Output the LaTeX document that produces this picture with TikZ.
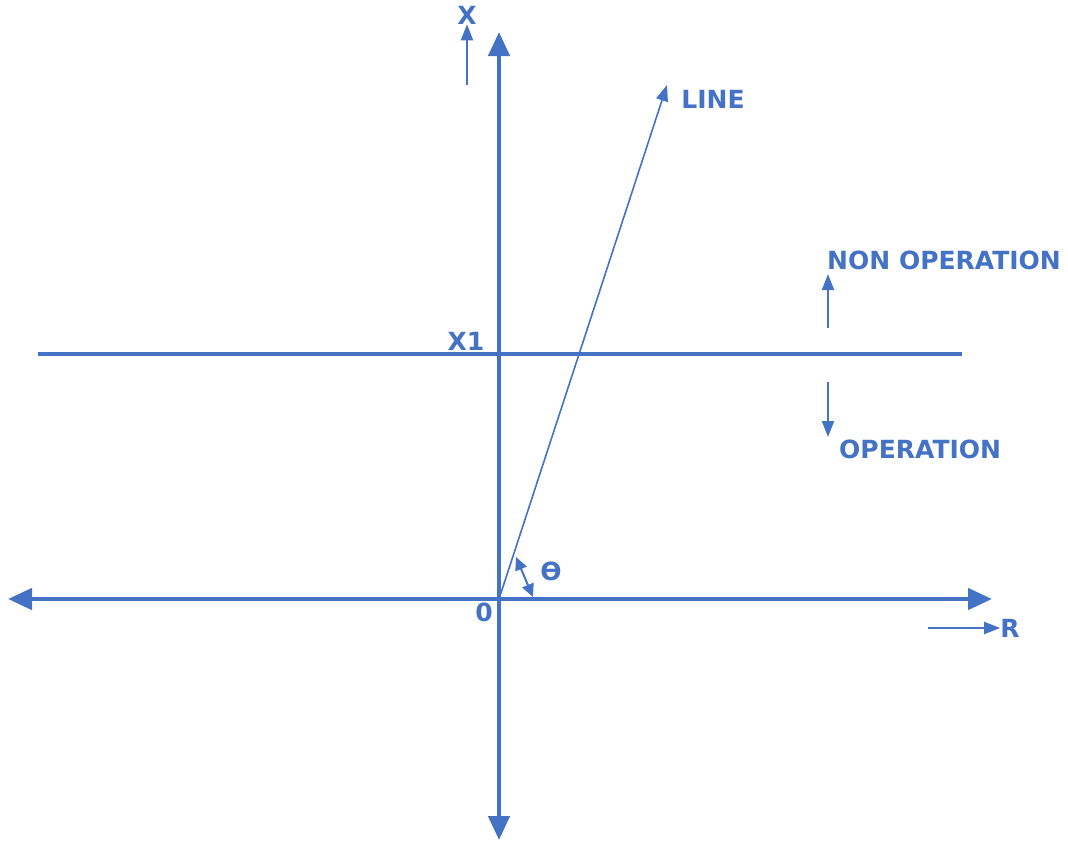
\documentclass[tikz,border=0pt]{standalone}
\usepackage{fontspec}
\setmainfont{DejaVu Sans}
\usetikzlibrary{arrows.meta}
\definecolor{ab}{HTML}{4472C4}
\tikzset{
  axis/.style={draw=ab, line width=4.5pt, -{Triangle[length=24pt,width=21pt]}},
  thinarrow/.style={draw=ab, line width=2pt, -{Triangle[length=16pt,width=12pt]}},
  lbl/.style={text=ab, font=\bfseries\fontsize{25}{28}\selectfont, inner sep=0pt},
}
\begin{document}
\begin{tikzpicture}[x=1pt,y=-1pt]
\useasboundingbox (0,0) rectangle (1068,841);
% coordinates
\coordinate (O) at (499,599);
\coordinate (vtop) at (499,32);
\coordinate (vbot) at (499,840);
\coordinate (hl) at (8,599);
\coordinate (hr) at (992,599);
\coordinate (xl) at (38,354);
\coordinate (xr) at (962,354);
\coordinate (lineEnd) at (667,85);
% axes
\draw[axis] (O) -- (vtop);
\draw[axis] (O) -- (vbot);
\draw[axis] (O) -- (hl);
\draw[axis] (O) -- (hr);
% X1 line
\draw[ab, line width=3.5pt] (xl) -- (xr);
% inclined line
\draw[thinarrow, line width=1.6pt] (O) -- (lineEnd);
% labels
\node[lbl] (X) at (467,15) {X};
\coordinate (xa0) at (467,85);
\draw[thinarrow] (xa0) -- (X.south);
\node[lbl] (LINE) at (713,99) {LINE};
\node[lbl, anchor=west] (NON) at (827,260) {NON OPERATION};
\coordinate (na0) at (828,328);
\coordinate (na1) at (828,274);
\draw[thinarrow] (na0) -- (na1);
\node[lbl, anchor=west] (OP) at (839,449) {OPERATION};
\coordinate (oa0) at (828,382);
\coordinate (oa1) at (828,437);
\draw[thinarrow] (oa0) -- (oa1);
\node[lbl] (X1) at (466,341) {X1};
\node[lbl] (zero) at (484,612) {0};
\node[lbl] (theta) at (551,571) {ϴ};
\coordinate (t0) at (516,557);
\coordinate (t1) at (533,597);
\draw[ab, line width=2pt, {Triangle[length=13pt,width=12pt]}-{Triangle[length=13pt,width=12pt]}] (t0) -- (t1);
\node[lbl] (R) at (1010,628) {R};
\coordinate (ra0) at (928,628);
\draw[thinarrow] (ra0) -- (R.west);
\end{tikzpicture}
\end{document}
